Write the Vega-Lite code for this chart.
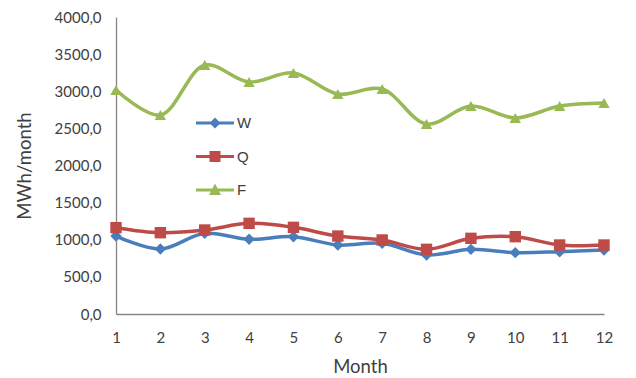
{
  "$schema": "https://vega.github.io/schema/vega-lite/v6.json",
  "width": 488,
  "height": 297,
  "autosize": "none",
  "padding": {"left": 116, "top": 17, "right": 32, "bottom": 64},
  "background": "white",
  "config": {
    "view": {"stroke": null},
    "font": "Lato",
    "axis": {"labelFont": "Lato", "titleFont": "Lato", "labelColor": "#404040", "titleColor": "#404040", "labelFontSize": 15, "titleFontSize": 18.5, "titleFontWeight": "normal", "domainColor": "#868686", "domainWidth": 1.3, "ticks": false, "grid": false}
  },
  "data": {"values": [
    {"month": 1, "series": "W", "value": 1050},
    {"month": 2, "series": "W", "value": 875},
    {"month": 3, "series": "W", "value": 1087},
    {"month": 4, "series": "W", "value": 1006},
    {"month": 5, "series": "W", "value": 1041},
    {"month": 6, "series": "W", "value": 929},
    {"month": 7, "series": "W", "value": 952},
    {"month": 8, "series": "W", "value": 795},
    {"month": 9, "series": "W", "value": 871},
    {"month": 10, "series": "W", "value": 826},
    {"month": 11, "series": "W", "value": 839},
    {"month": 12, "series": "W", "value": 862},
    {"month": 1, "series": "Q", "value": 1163},
    {"month": 2, "series": "Q", "value": 1095},
    {"month": 3, "series": "Q", "value": 1131},
    {"month": 4, "series": "Q", "value": 1221},
    {"month": 5, "series": "Q", "value": 1167},
    {"month": 6, "series": "Q", "value": 1050},
    {"month": 7, "series": "Q", "value": 997},
    {"month": 8, "series": "Q", "value": 871},
    {"month": 9, "series": "Q", "value": 1019},
    {"month": 10, "series": "Q", "value": 1041},
    {"month": 11, "series": "Q", "value": 929},
    {"month": 12, "series": "Q", "value": 929},
    {"month": 1, "series": "F", "value": 3017},
    {"month": 2, "series": "F", "value": 2680},
    {"month": 3, "series": "F", "value": 3353},
    {"month": 4, "series": "F", "value": 3125},
    {"month": 5, "series": "F", "value": 3246},
    {"month": 6, "series": "F", "value": 2963},
    {"month": 7, "series": "F", "value": 3030},
    {"month": 8, "series": "F", "value": 2559},
    {"month": 9, "series": "F", "value": 2801},
    {"month": 10, "series": "F", "value": 2640},
    {"month": 11, "series": "F", "value": 2801},
    {"month": 12, "series": "F", "value": 2842}
  ]},
  "encoding": {
    "x": {"field": "month", "type": "ordinal", "scale": {"type": "point", "padding": 0}, "axis": {"title": "Month", "labelAngle": 0, "labelPadding": 16, "titlePadding": 12}},
    "y": {"field": "value", "type": "quantitative", "scale": {"domain": [0, 4000], "nice": false}, "axis": {"title": "MWh/month", "values": [0, 500, 1000, 1500, 2000, 2500, 3000, 3500, 4000], "labelExpr": "replace(format(datum.value, '.1f'), '.', ',')", "labelPadding": 15, "titlePadding": 20}}
  },
  "layer": [
    {
      "mark": {"type": "line", "interpolate": "catmull-rom", "strokeWidth": 3.5},
      "encoding": {
        "color": {"field": "series", "type": "nominal", "scale": {"domain": ["W", "Q", "F"], "range": ["#4A7EBB", "#BE4B48", "#98B954"]}, "legend": null}
      }
    },
    {
      "mark": {"type": "point", "filled": true, "opacity": 1, "size": 130},
      "encoding": {
        "color": {"field": "series", "type": "nominal", "scale": {"domain": ["W", "Q", "F"], "range": ["#4A7EBB", "#BE4B48", "#98B954"]}, "legend": null},
        "shape": {"field": "series", "type": "nominal", "scale": {"domain": ["W", "Q", "F"], "range": ["diamond", "square", "triangle-up"]}, "legend": null}
      }
    },
    {
      "mark": {"type": "point", "filled": true, "opacity": 0},
      "encoding": {
        "color": {"field": "series", "type": "nominal", "scale": {"domain": ["W", "Q", "F"], "range": ["#4A7EBB", "#BE4B48", "#98B954"]}, "legend": {"title": null, "orient": "none", "legendX": 89, "legendY": 96, "padding": 0, "symbolSize": 400, "symbolOpacity": 1, "rowPadding": 15.5, "labelOffset": 12, "labelFont": "Liberation Sans", "labelFontSize": 15, "labelColor": "#404040", "symbolStrokeWidth": 0}},
        "shape": {"field": "series", "type": "nominal", "scale": {"domain": ["W", "Q", "F"], "range": ["M-1.9,-0.15H1.9V0.15H-1.9Z M0,-0.55L0.55,0L0,0.55L-0.55,0Z", "M-1.9,-0.15H1.9V0.15H-1.9Z M-0.55,-0.55H0.55V0.55H-0.55Z", "M-1.9,-0.15H1.9V0.15H-1.9Z M0,-0.65L0.6,0.5H-0.6Z"]}, "legend": {"title": null, "orient": "none", "legendX": 89, "legendY": 96, "padding": 0, "symbolSize": 400, "symbolOpacity": 1, "rowPadding": 15.5, "labelOffset": 12, "labelFont": "Liberation Sans", "labelFontSize": 15, "labelColor": "#404040", "symbolStrokeWidth": 0}}
      }
    }
  ],
  "resolve": {"scale": {"shape": "independent", "color": "independent"}}
}
